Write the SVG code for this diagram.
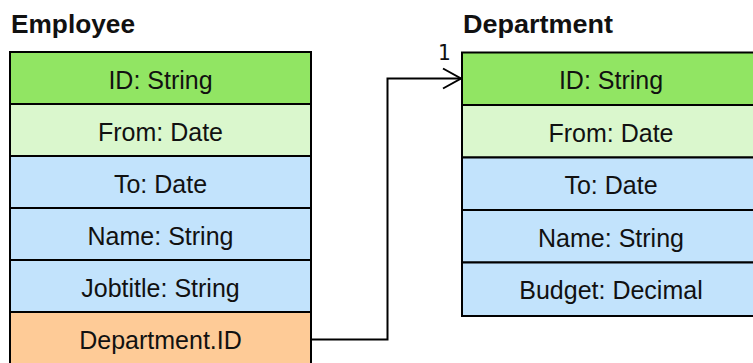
<svg xmlns="http://www.w3.org/2000/svg" width="753" height="363" viewBox="0 0 753 363">
<style>
.t{font-family:"Liberation Sans",Arial,sans-serif;font-size:25px;fill:#111;text-anchor:middle}
.h{font-family:"Liberation Sans",Arial,sans-serif;font-size:25px;font-weight:bold;fill:#111}
.r{stroke:#000;stroke-width:2}
.g{fill:#91e563}.lg{fill:#daf7cd}.b{fill:#c2e3fc}.o{fill:#fecb97}
.c{fill:none;stroke:#000;stroke-width:2}
.n{font-family:"DejaVu Sans Mono",monospace;font-size:21px;fill:#111;text-anchor:middle}
</style>
<rect width="753" height="363" fill="#fff"/>
<g id="employee">
<text class="h" x="11" y="33" textLength="124" lengthAdjust="spacingAndGlyphs">Employee</text>
<rect class="r g" x="10" y="52" width="301" height="52"/>
<rect class="r lg" x="10" y="104" width="301" height="52"/>
<rect class="r b" x="10" y="156" width="301" height="52"/>
<rect class="r b" x="10" y="208" width="301" height="52"/>
<rect class="r b" x="10" y="260" width="301" height="52"/>
<rect class="r o" x="10" y="312" width="301" height="60"/>
<text class="t" x="160.5" y="89">ID: String</text>
<text class="t" x="160.5" y="141">From: Date</text>
<text class="t" x="160.5" y="193">To: Date</text>
<text class="t" x="160.5" y="245">Name: String</text>
<text class="t" x="160.5" y="297">Jobtitle: String</text>
<text class="t" x="160.5" y="349">Department.ID</text>
</g>
<g id="department">
<text class="h" x="463" y="33" textLength="150" lengthAdjust="spacingAndGlyphs">Department</text>
<rect class="r g" x="462" y="52.5" width="300" height="52.5"/>
<rect class="r lg" x="462" y="105" width="300" height="52.5"/>
<rect class="r b" x="462" y="157.5" width="300" height="52.5"/>
<rect class="r b" x="462" y="210" width="300" height="52.5"/>
<rect class="r b" x="462" y="262.5" width="300" height="53.5"/>
<text class="t" x="611" y="89">ID: String</text>
<text class="t" x="611" y="141.5">From: Date</text>
<text class="t" x="611" y="194">To: Date</text>
<text class="t" x="611" y="246.5">Name: String</text>
<text class="t" x="611" y="299">Budget: Decimal</text>
</g>
<g id="connectors">
<path class="c" d="M311 339.5 H387.5 V78.5 H461"/>
<path class="c" d="M443 68.5 L461 78.5 L443 88.5"/>
<text class="n" x="444" y="60">1</text>
</g>
</svg>
